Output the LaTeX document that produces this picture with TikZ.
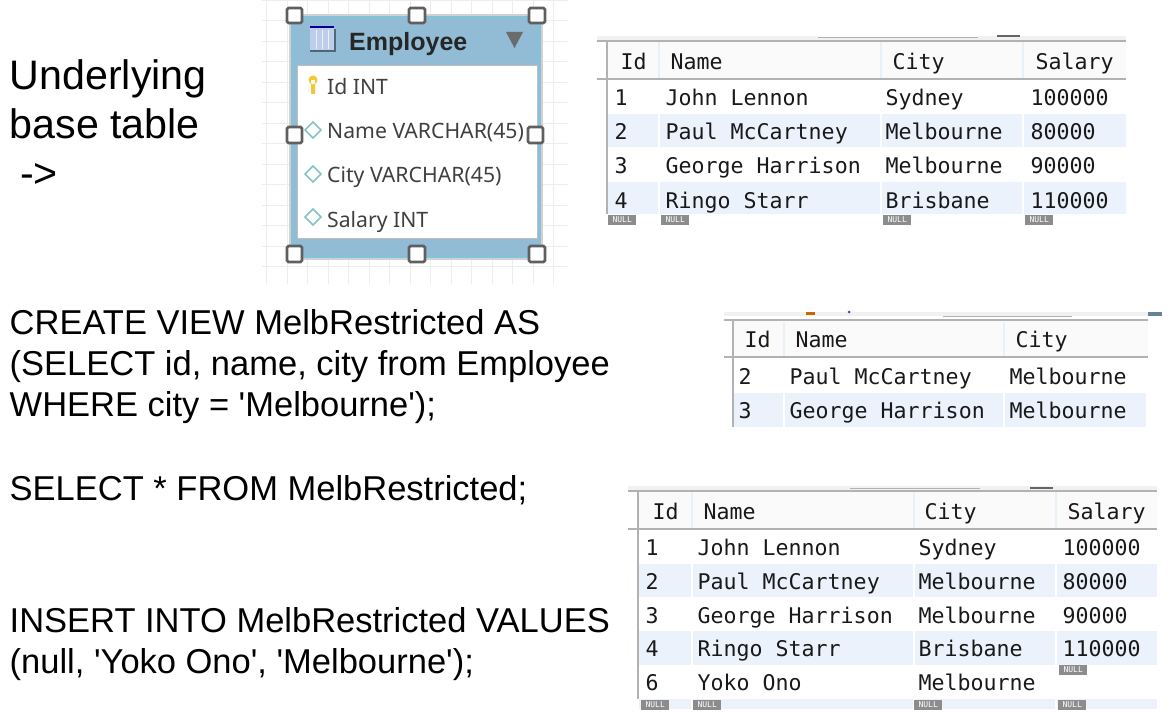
\documentclass[tikz,border=0pt]{standalone}
\usepackage{fontspec}
\usepackage{xcolor}
\usetikzlibrary{calc}
\newfontfamily\slidefont{Liberation Sans}
\newfontfamily\gridfont{DejaVu Sans Mono}
\newfontfamily\erfont{Noto Sans}
\definecolor{figrule}{RGB}{176,178,180}
\definecolor{figstripe}{RGB}{235,242,252}
\definecolor{fighead}{RGB}{250,250,251}
\definecolor{figsep}{RGB}{232,240,248}
\definecolor{fignull}{RGB}{140,140,140}
\definecolor{figbar}{RGB}{241,241,241}
\definecolor{figtext}{RGB}{25,25,25}
\definecolor{figer}{RGB}{146,187,214}
\definecolor{figedge}{RGB}{120,200,220}
\definecolor{figgrid}{RGB}{236,238,238}
\definecolor{fighandle}{RGB}{95,95,95}
\definecolor{figteal}{RGB}{130,195,195}
\definecolor{figicon}{RGB}{190,205,235}
\definecolor{figkey}{RGB}{245,200,50}
\tikzset{
  big/.style    ={font=\slidefont\fontsize{41.2}{49}\selectfont, anchor=north west, align=left, inner sep=0pt},
  body/.style   ={font=\slidefont\fontsize{34.5}{41}\selectfont, anchor=north west, align=left, inner sep=0pt},
  cell/.style   ={font=\gridfont\fontsize{21.6}{24}\selectfont, text=figtext, anchor=base west, inner sep=0pt},
  nullmark/.style={font=\gridfont\fontsize{8}{8}\selectfont, text=white, fill=fignull, anchor=north west,
                   minimum width=28pt, minimum height=9.5pt, inner sep=0pt},
  ersc/.style   ={font=\erfont\fontsize{21.2}{24}\selectfont, text=black!75, anchor=base west, inner sep=0pt},
  rulel/.style  ={draw=figrule, line width=1.5pt},
  sepl/.style   ={draw=figsep, line width=1.5pt},
  handle/.style ={draw=fighandle, fill=white, line width=2.6pt, rounded corners=1.5pt},
  diam/.style   ={draw=figteal, fill=white, line width=1.5pt},
}

\begin{document}
\begin{tikzpicture}[x=1pt,y=-1pt]
  \useasboundingbox (0,0) rectangle (1172,722);
  % left column text
  \node[big] (base) at (9.5,59) {Underlying\\base table\\\hspace*{0.25em}->};
  \node[body] (view) at (9.5,309) {CREATE VIEW MelbRestricted AS\\(SELECT id, name, city from Employee\\WHERE city = 'Melbourne');};
  \node[body] (select) at (9.5,475) {SELECT * FROM MelbRestricted;};
  \node[body] (insert) at (9.5,607) {INSERT INTO MelbRestricted VALUES\\(null, 'Yoko Ono', 'Melbourne');};
  % model editor
  \draw[draw=figgrid, line width=0.8pt, step=20.5pt] (262,0) grid (568,284);
  \fill[black!18] (289,14) rectangle (543,260);
  \fill[figer] (291,16) rectangle (541,258);
  \draw[figedge, line width=1pt] (293,18) rectangle (539,256);
  \fill[white] (297,65) rectangle (537,238);
  \draw[black!25, line width=0.8pt] (297,65) rectangle (537,238);
  \fill[black!45!figer] (310,29) rectangle (336,52);
  \fill[figicon] (310,27) rectangle (334,50);
  \fill[blue!60!black] (310,26) rectangle (334,28.5);
  \draw[white!70!figicon, line width=0.7pt] (316,30) -- (316,49) (322,30) -- (322,49) (328,30) -- (328,49);
  \node[font=\slidefont\bfseries\fontsize{25}{28}\selectfont, text=black!85, anchor=base west, inner sep=0pt] (emptitle) at (349,51) {Employee};
  \fill[black!58] (506,32) -- (523,32) -- (514.5,48) -- cycle;
  \fill[figkey] (313,80) circle (4.5) (311,80) rectangle (315,94);
  \draw[diam] (313,122) -- (321,130) -- (313,138) -- (305,130) -- cycle;
  \draw[diam] (313,166) -- (321,174) -- (313,182) -- (305,174) -- cycle;
  \draw[diam] (313,209) -- (321,217) -- (313,225) -- (305,217) -- cycle;
  \node[ersc] (empid) at (327,95) {Id INT};
  \node[ersc] (empname) at (327,139) {Name VARCHAR(45)};
  \node[ersc] (empcity) at (327,183) {City VARCHAR(45)};
  \node[ersc] (empsal) at (327,227) {Salary INT};
  \draw[handle] (287,8) rectangle (302,23);
  \draw[handle] (409,8) rectangle (425,23);
  \draw[handle] (529,8) rectangle (545,23);
  \draw[handle] (287,127) rectangle (302,143);
  \draw[handle] (528,127) rectangle (543,143);
  \draw[handle] (287,246) rectangle (302,262);
  \draw[handle] (409,246) rectangle (425,262);
  \draw[handle] (529,246) rectangle (545,262);
  % base table result
  \begin{scope}[cell/.append style={yshift=-2pt,xshift=0.5pt}]
  \fill[figbar] (597,36) rectangle (1126,41);
  \fill[white] (818,34) rectangle (978,38);
  \draw[black!30, line width=0.8pt] (818,37) -- (978,37);
  \draw[black!60, line width=1.2pt] (997,36) -- (1020,36);
  \fill[fighead] (607,41) rectangle (1126,79);
  \fill[figstripe] (608,114) rectangle (1126,147);
  \fill[figstripe] (608,182) rectangle (1126,214);
  \draw[white, line width=1.5pt] (659,80) -- (659,214) (881,80) -- (881,214) (1023,80) -- (1023,214);
  \draw[sepl] (659,42) -- (659,78) (881,42) -- (881,78) (1023,42) -- (1023,78);
  \draw[rulel] (597,41) -- (1126,41);
  \draw[rulel] (597,79) -- (1126,79);
  \draw[rulel] (607,41) -- (607,214);
  \node[cell] (aid) at (620,68) {Id};
  \node[cell] (aname) at (670,68) {Name};
  \node[cell] (acity) at (892,68) {City};
  \node[cell] (asal) at (1035,68) {Salary};
  \node[cell] (a1) at (614,104) {1};
  \node[cell] (a1n) at (665,104) {John Lennon};
  \node[cell] (a1c) at (885,104) {Sydney};
  \node[cell] (a1s) at (1030,104) {100000};
  \node[cell] (a2) at (614,138) {2};
  \node[cell] (a2n) at (665,138) {Paul McCartney};
  \node[cell] (a2c) at (885,138) {Melbourne};
  \node[cell] (a2s) at (1030,138) {80000};
  \node[cell] (a3) at (614,172) {3};
  \node[cell] (a3n) at (665,172) {George Harrison};
  \node[cell] (a3c) at (885,172) {Melbourne};
  \node[cell] (a3s) at (1030,172) {90000};
  \node[cell] (a4) at (614,206) {4};
  \node[cell] (a4n) at (665,206) {Ringo Starr};
  \node[cell] (a4c) at (885,206) {Brisbane};
  \node[cell] (a4s) at (1030,206) {110000};
  \node[nullmark] (an1) at (608,215) {NULL};
  \node[nullmark] (an2) at (661,215) {NULL};
  \node[nullmark] (an3) at (883,215) {NULL};
  \node[nullmark] (an4) at (1025,215) {NULL};
  \end{scope}
  % view result
  \begin{scope}[cell/.append style={yshift=-0.5pt,xshift=0.5pt}]
  \fill[figbar] (724,312) rectangle (1162,316);
  \fill[orange!80!black] (806,312) rectangle (815,315);
  \fill[blue!40!gray] (849,312) circle (1.5);
  \draw[black!30, line width=0.8pt] (943,316) -- (1072,316);
  \fill[figer!70!black] (1148,312) rectangle (1162,316);
  \fill[fighead] (733,321) rectangle (1148,357);
  \fill[figstripe] (734,393) rectangle (1146,427);
  \draw[white, line width=1.5pt] (784,358) -- (784,427) (1004,358) -- (1004,427);
  \draw[sepl] (784,322) -- (784,356) (1004,322) -- (1004,356);
  \draw[rulel] (724,320) -- (1148,320);
  \draw[rulel] (724,357) -- (1148,357);
  \draw[rulel] (733,320) -- (733,427);
  \node[cell] (bid) at (744,347) {Id};
  \node[cell] (bname) at (795,347) {Name};
  \node[cell] (bcity) at (1015,347) {City};
  \node[cell] (b2) at (738,384) {2};
  \node[cell] (b2n) at (789,384) {Paul McCartney};
  \node[cell] (b2c) at (1009,384) {Melbourne};
  \node[cell] (b3) at (738,418) {3};
  \node[cell] (b3n) at (789,418) {George Harrison};
  \node[cell] (b3c) at (1009,418) {Melbourne};
  \end{scope}
  % table after the insert
  \begin{scope}[cell/.append style={yshift=-1pt,xshift=0.5pt}]
  \fill[figbar] (628,486) rectangle (1157,491);
  \draw[black!30, line width=0.8pt] (850,488) -- (980,488);
  \draw[black!60, line width=1.2pt] (1030,488) -- (1053,488);
  \fill[fighead] (638,491) rectangle (1157,529);
  \fill[figstripe] (639,564) rectangle (1157,597);
  \fill[figstripe] (639,631) rectangle (1157,665);
  \fill[figstripe] (639,699) rectangle (1157,709);
  \draw[white, line width=1.5pt] (692,530) -- (692,709) (914,530) -- (914,709) (1056,530) -- (1056,709);
  \draw[sepl] (692,492) -- (692,528) (914,492) -- (914,528) (1056,492) -- (1056,528);
  \draw[rulel] (628,491) -- (1157,491);
  \draw[rulel] (628,529) -- (1157,529);
  \draw[rulel] (638,491) -- (638,699);
  \node[cell] (cid) at (652,518) {Id};
  \node[cell] (cname) at (703,518) {Name};
  \node[cell] (ccity) at (924,518) {City};
  \node[cell] (csal) at (1067,518) {Salary};
  \node[cell] (c1) at (645,554) {1};
  \node[cell] (c1n) at (697,554) {John Lennon};
  \node[cell] (c1c) at (918,554) {Sydney};
  \node[cell] (c1s) at (1062,554) {100000};
  \node[cell] (c2) at (645,588) {2};
  \node[cell] (c2n) at (697,588) {Paul McCartney};
  \node[cell] (c2c) at (918,588) {Melbourne};
  \node[cell] (c2s) at (1062,588) {80000};
  \node[cell] (c3) at (645,622) {3};
  \node[cell] (c3n) at (697,622) {George Harrison};
  \node[cell] (c3c) at (918,622) {Melbourne};
  \node[cell] (c3s) at (1062,622) {90000};
  \node[cell] (c4) at (645,655) {4};
  \node[cell] (c4n) at (697,655) {Ringo Starr};
  \node[cell] (c4c) at (918,655) {Brisbane};
  \node[cell] (c4s) at (1062,655) {110000};
  \node[cell] (c6) at (645,689) {6};
  \node[cell] (c6n) at (697,689) {Yoko Ono};
  \node[cell] (c6c) at (918,689) {Melbourne};
  \node[nullmark] (cn0) at (1059,665) {NULL};
  \node[nullmark] (cn1) at (641,700) {NULL};
  \node[nullmark] (cn2) at (693,700) {NULL};
  \node[nullmark] (cn3) at (914,700) {NULL};
  \node[nullmark] (cn4) at (1058,700) {NULL};
  \end{scope}
\end{tikzpicture}
\end{document}
